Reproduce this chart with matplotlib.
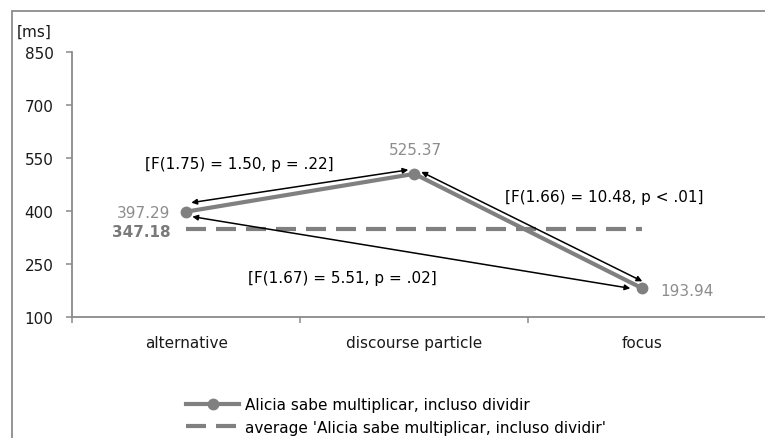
import matplotlib
matplotlib.use("Agg")
import matplotlib.pyplot as plt
from matplotlib.patches import Rectangle, FancyArrowPatch
from matplotlib.lines import Line2D
from matplotlib.transforms import offset_copy

plt.rcParams['font.family'] = ['DejaVu Sans']
FS = 11

# ---- data ----
categories = ['alternative', 'discourse particle', 'focus']
plotted_values = [399, 506, 182]          # positions
value_labels = ['397.29', '525.37', '193.94']
average_value = 349
average_label = '347.18'
yticks = [100, 250, 400, 550, 700, 850]
series_name = 'Alicia sabe multiplicar, incluso dividir'
average_name = "average 'Alicia sabe multiplicar, incluso dividir'"
stat_alt_disc = '[F(1.75) = 1.50, p = .22]'
stat_disc_focus = '[F(1.66) = 10.48, p < .01]'
stat_alt_focus = '[F(1.67) = 5.51, p = .02]'

W, H = 765, 439
fig = plt.figure(figsize=(W / 100, H / 100), dpi=100)

def fx(px):
    return px / W

def fy(py):
    return 1 - py / H

# outer frame
fig.patches.append(Rectangle((fx(12.3), -0.1), 1.2, fy(11.7) + 0.1,
                             transform=fig.transFigure, fill=False,
                             edgecolor='#8c8c8c', linewidth=1.3, clip_on=False))

left_px, right_px = 72.3, 765
top_px, bottom_px = 53.3, 318.3
ax = fig.add_axes([fx(left_px), fy(bottom_px), fx(right_px) - fx(left_px),
                   fy(top_px) - fy(bottom_px)])

spacing = 228.0
xs = list(range(len(categories)))
ax.set_xlim(-0.5, (right_px - left_px) / spacing - 0.5)
ax.set_ylim(yticks[0], yticks[-1])

gray = '#808080'
dash = (4.8, 2.4)
ax.plot(xs, plotted_values, color=gray, linewidth=3.0, marker='o',
        markersize=7.5, solid_capstyle='round', zorder=3)
ax.plot([xs[0], xs[-1]], [average_value, average_value], color=gray,
        linewidth=3.0, dashes=dash, zorder=2)

for s in ['top', 'right']:
    ax.spines[s].set_visible(False)
for s in ['left', 'bottom']:
    ax.spines[s].set_color('#8a8a8a')
    ax.spines[s].set_linewidth(1.3)

txt = '#1a1a1a'
ax.set_yticks(yticks)
ax.set_yticklabels([str(v) for v in yticks])
ax.tick_params(axis='y', length=4.3, width=1.1, color='#8a8a8a', pad=9.3,
               labelsize=FS, labelcolor=txt)
ax.set_xticks([-0.5, 0.5, 1.5])
ax.set_xticklabels([])
ax.tick_params(axis='x', which='major', length=4.3, width=1.1, color='#8a8a8a')
ax.set_xticks(xs, minor=True)
ax.set_xticklabels(categories, minor=True)
ax.tick_params(axis='x', which='minor', length=0, pad=12.5, labelsize=FS,
               labelcolor=txt)

ax.text(fx(17), fy(32), '[ms]', transform=fig.transFigure, fontsize=FS,
        color=txt, va='center', ha='left')

# value labels
lbl_gray = '#8c8c8c'
def off(dx, dy):
    return offset_copy(ax.transData, fig=fig, x=dx, y=dy, units='dots')

ax.text(xs[0], plotted_values[0], value_labels[0], transform=off(-16, -1),
        ha='right', va='center', fontsize=FS, color=lbl_gray)
ax.text(xs[0], average_value, average_label, transform=off(-16, -2),
        ha='right', va='center', fontsize=FS, color='#7a7a7a', fontweight='bold')
ax.text(xs[1], plotted_values[1], value_labels[1], transform=off(1, 24),
        ha='center', va='center', fontsize=FS, color=lbl_gray)
ax.text(xs[2], plotted_values[2], value_labels[2], transform=off(18, -2),
        ha='left', va='center', fontsize=FS, color=lbl_gray)

# comparison arrows
def arrow(i, j, da, db):
    pa = off(*da).transform((xs[i], plotted_values[i]))
    pb = off(*db).transform((xs[j], plotted_values[j]))
    a = FancyArrowPatch(pa, pb, transform=None, arrowstyle='<|-|>',
                        mutation_scale=8, color='black', linewidth=1.1,
                        shrinkA=0, shrinkB=0, zorder=4)
    fig.patches.append(a)

arrow(0, 1, (5, 9), (-6, 4))
arrow(1, 2, (7, 2), (0, 7))
arrow(0, 2, (6, -5), (-12, 0))

fig.text(fx(239), fy(165), stat_alt_disc, ha='center', va='center', fontsize=FS)
fig.text(fx(604), fy(198), stat_disc_focus, ha='center', va='center', fontsize=FS)
fig.text(fx(342), fy(279), stat_alt_focus, ha='center', va='center', fontsize=FS)

handles = [Line2D([], [], color=gray, linewidth=3.0, marker='o', markersize=7.5),
           Line2D([], [], color=gray, linewidth=3.0, dashes=dash)]
fig.legend(handles, [series_name, average_name], loc='upper left',
           bbox_to_anchor=(fx(186), fy(398)), frameon=False, fontsize=FS,
           borderpad=0, borderaxespad=0, handlelength=3.5, handletextpad=0.38,
           labelspacing=0.5, numpoints=1)

fig.savefig('out.png', dpi=100)
